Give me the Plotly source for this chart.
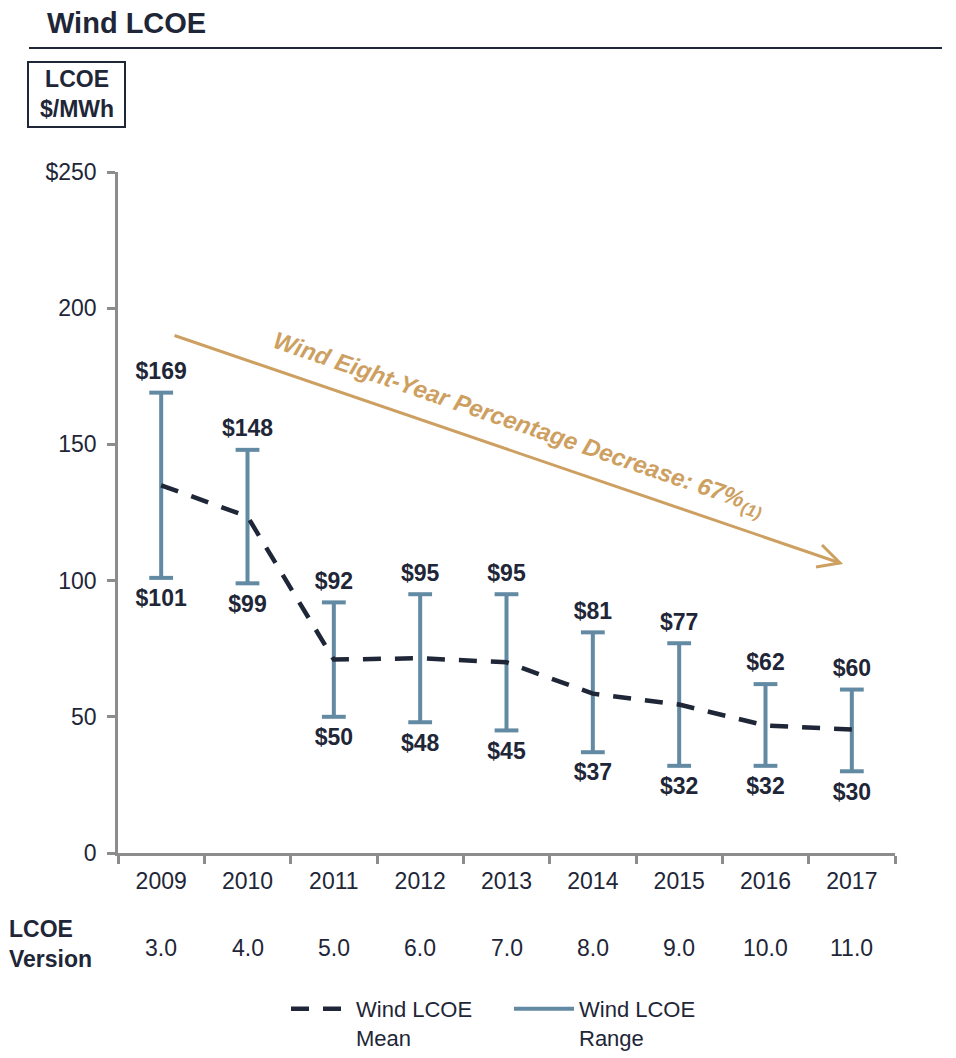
import plotly.graph_objects as go

# ── Data ──────────────────────────────────────────────────────────────────────
years      = ['2009', '2010', '2011', '2012', '2013', '2014', '2015', '2016', '2017']
versions   = ['3.0', '4.0', '5.0', '6.0', '7.0', '8.0', '9.0', '10.0', '11.0']
range_high = [169, 148, 92, 95, 95, 81, 77, 62, 60]
range_low  = [101, 99, 50, 48, 45, 37, 32, 32, 30]
mean_lcoe  = [135, 123.5, 71, 71.5, 70, 58.5, 54.5, 46.8, 45.3]
y_ticks    = [0, 50, 100, 150, 200, 250]
y_labels   = ['0', '50', '100', '150', '200', '$250']

# ── Palette ───────────────────────────────────────────────────────────────────
NAVY  = '#1E2637'
STEEL = '#628AA3'
TAN   = '#CDA062'
GRAY  = '#8C8C8C'
FONT  = 'Liberation Sans, Arial, sans-serif'

# page body adds an 8px margin, so the figure is a bit smaller than the window
OFF = 8
W, H = 948, 1050
L, T, PW, PH = 110, 164, 777, 681
R, B = W - L - PW, H - T - PH


def px(x):
    """screen x (reference pixels) -> paper x"""
    return (x - OFF - L) / PW


def py(y):
    """screen y (reference pixels) -> paper y"""
    return (T + PH - (y - OFF)) / PH


fig = go.Figure()

# vertical range segments, one per year
seg_x, seg_y = [], []
for yr, lo, hi in zip(years, range_low, range_high):
    seg_x += [yr, yr, None]
    seg_y += [lo, hi, None]

fig.add_trace(go.Scatter(
    x=seg_x, y=seg_y, mode='lines',
    line=dict(color=STEEL, width=4),
    name='Wind LCOE<br>Range', legendrank=2,
    hoverinfo='skip',
))

# caps
fig.add_trace(go.Scatter(
    x=years + years, y=range_high + range_low, mode='markers',
    marker=dict(symbol='line-ew', size=17, line=dict(color=STEEL, width=4)),
    showlegend=False, hoverinfo='skip',
))

# value labels
label_font = dict(color=NAVY, size=23, family=FONT, weight='bold')
fig.add_trace(go.Scatter(
    x=years, y=range_high, mode='markers+text',
    marker=dict(size=11, color='rgba(0,0,0,0)'),
    text=[f'${v}' for v in range_high], textposition='top center',
    textfont=label_font, showlegend=False, hoverinfo='skip',
))
fig.add_trace(go.Scatter(
    x=years, y=range_low, mode='markers+text',
    marker=dict(size=16, color='rgba(0,0,0,0)'),
    text=[f'${v}' for v in range_low], textposition='bottom center',
    textfont=label_font, showlegend=False, hoverinfo='skip',
))

# mean line
fig.add_trace(go.Scatter(
    x=years, y=mean_lcoe, mode='lines',
    line=dict(color=NAVY, width=4.5, dash='18px,14px'),
    name='Wind LCOE<br>Mean', legendrank=1,
    hoverinfo='skip',
))

# ── Annotations ───────────────────────────────────────────────────────────────
annotations = []

# decrease arrow (shaft; open head drawn as a shape below)
annotations.append(dict(
    xref='paper', yref='paper', x=px(840), y=py(563),
    axref='pixel', ayref='pixel', ax=173 - 840, ay=335 - 563,
    text='', showarrow=True, arrowhead=0, arrowwidth=3,
    arrowcolor=TAN, standoff=0,
))
annotations.append(dict(
    xref='paper', yref='paper', x=px(518), y=py(424),
    xanchor='center', yanchor='middle',
    text='<b><i>Wind Eight-Year Percentage Decrease: 67%<sub>(1)</sub></i></b>',
    showarrow=False, textangle=18.9,
    font=dict(color=TAN, size=24, family=FONT),
))

# LCOE version row
for i, v in enumerate(versions):
    annotations.append(dict(
        xref='x', yref='paper', x=i, y=py(948), text=v, showarrow=False,
        xanchor='center', yanchor='middle',
        font=dict(color=NAVY, size=23, family=FONT),
    ))
annotations.append(dict(
    xref='paper', yref='paper', x=px(8), y=py(944), xanchor='left', yanchor='middle',
    text='<b>LCOE<br>Version</b>', align='left', showarrow=False, borderpad=0,
    font=dict(color=NAVY, size=23, family=FONT),
))

# unit box label
annotations.append(dict(
    xref='paper', yref='paper', x=px(76.5), y=py(94),
    xanchor='center', yanchor='middle',
    text='<b>LCOE<br>$/MWh</b>', showarrow=False, align='center',
    font=dict(color=NAVY, size=23, family=FONT),
))

head = f'M{px(822)},{py(545)} L{px(840)},{py(563)} L{px(816)},{py(567)}'
shapes = [
    dict(type='line', xref='paper', yref='paper',
         x0=px(29), x1=px(942), y0=py(48), y1=py(48),
         line=dict(color=NAVY, width=2)),
    dict(type='rect', xref='paper', yref='paper',
         x0=px(28), x1=px(125), y0=py(127), y1=py(62),
         line=dict(color=NAVY, width=2)),
    dict(type='path', xref='paper', yref='paper', path=head,
         line=dict(color=TAN, width=3)),
]

# ── Layout ────────────────────────────────────────────────────────────────────
fig.update_layout(
    width=W, height=H,
    margin=dict(l=L, r=R, t=T, b=B, autoexpand=False),
    paper_bgcolor='white', plot_bgcolor='white',
    font=dict(color=NAVY, family=FONT, size=23),
    title=dict(
        text='<b>Wind LCOE</b>', xref='container', yref='container',
        x=(47 - OFF) / W, xanchor='left', y=1 - (23 - OFF) / H, yanchor='middle',
        font=dict(color=NAVY, size=29, family=FONT),
    ),
    xaxis=dict(
        type='category', range=[-0.5, 8.5],
        showline=True, linecolor=GRAY, linewidth=2.5,
        ticks='outside', tickson='boundaries', ticklen=8, tickwidth=2.5, tickcolor=GRAY,
        ticklabelstandoff=6,
        showgrid=False, zeroline=False,
        tickfont=dict(color=NAVY, size=23, family=FONT),
    ),
    yaxis=dict(
        range=[0, 250], tickvals=y_ticks, ticktext=y_labels,
        showline=True, linecolor=GRAY, linewidth=2.5,
        ticks='outside', ticklen=8, tickwidth=2.5, tickcolor=GRAY,
        ticklabelstandoff=6,
        showgrid=False, zeroline=False,
        tickfont=dict(color=NAVY, size=23, family=FONT),
    ),
    legend=dict(
        orientation='h', x=px(286), y=py(988), xanchor='left', yanchor='top',
        font=dict(color=NAVY, size=22, family=FONT),
        itemwidth=60, entrywidth=148, traceorder='normal', valign='top',
    ),
    annotations=annotations,
    shapes=shapes,
    showlegend=True,
)

fig.write_html('out.html')
